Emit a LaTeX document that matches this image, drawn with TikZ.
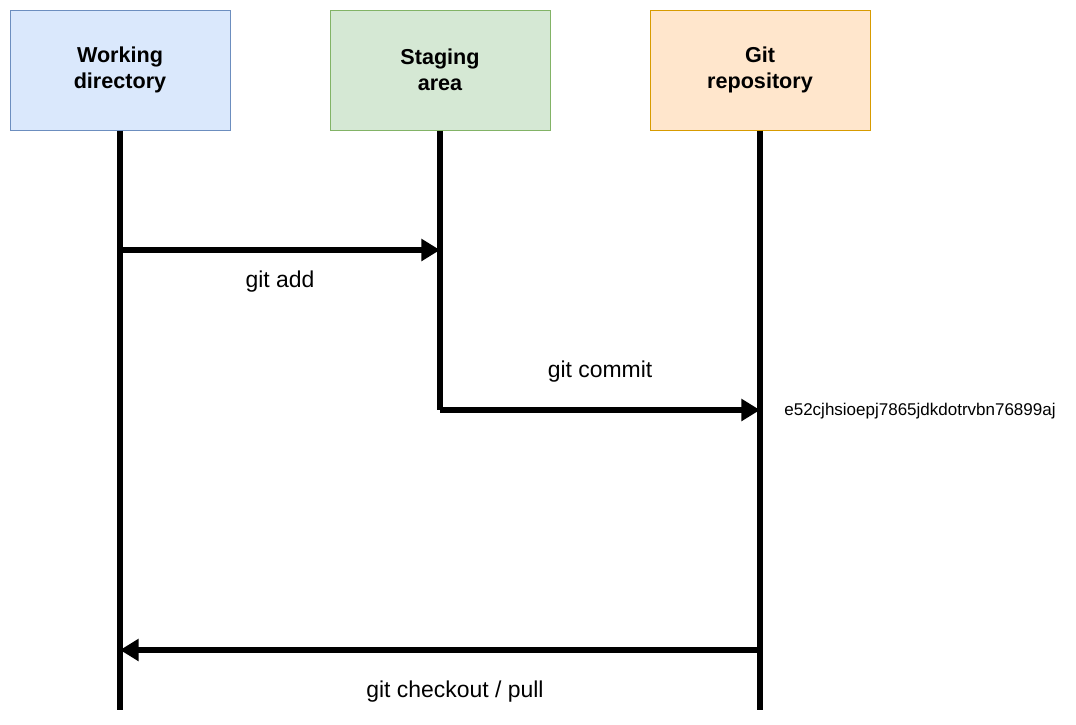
\documentclass[tikz,border=0pt]{standalone}
\usepackage{fontspec}
\setmainfont{Liberation Sans}
\usetikzlibrary{arrows.meta}
\definecolor{wdfill}{HTML}{DAE8FC}\definecolor{wddraw}{HTML}{6C8EBF}
\definecolor{safill}{HTML}{D5E8D4}\definecolor{sadraw}{HTML}{82B366}
\definecolor{grfill}{HTML}{FFE6CC}\definecolor{grdraw}{HTML}{D79B00}
\tikzset{
    areabox/.style={draw, line width=0.75pt, minimum width=165pt, minimum height=90pt,
        align=center, font=\fontsize{16.2}{19.5}\selectfont\bfseries},
    lifeline/.style={line width=4.2pt},
    gitarrow/.style={line width=4.2pt, -{Triangle[length=14pt,width=16pt]}},
    cmdlabel/.style={font=\fontsize{17.2}{20}\selectfont},
}
\begin{document}
\begin{tikzpicture}[x=0.75pt, y=-0.75pt]
        \useasboundingbox (0,0) rectangle (1076,725);
        % Bereiche
        \node[areabox, fill=wdfill, draw=wddraw] (wd) at (120,70) {Working\\directory};
        \node[areabox, fill=safill, draw=sadraw] (sa) at (440,70) {Staging\\area};
        \node[areabox, fill=grfill, draw=grdraw] (gr) at (760,70) {Git\\repository};

        % Lebenslinien
        \coordinate (wdadd) at (120,250);
        \coordinate (wdpull) at (120,650);
        \coordinate (wdend) at (120,710);
        \coordinate (saadd) at (440,250);
        \coordinate (sacommit) at (440,410);
        \coordinate (grcommit) at (760,410);
        \coordinate (grpull) at (760,650);
        \coordinate (grend) at (760,710);
        \draw[lifeline] (wd.south) -- (wdend);
        \draw[lifeline] (sa.south) -- (sacommit);
        \draw[lifeline] (gr.south) -- (grend);

        % Befehle
        \draw[gitarrow] (wdadd) -- (saadd);
        \node[cmdlabel] (addlabel) at (280,282) {git add};
        \draw[gitarrow] (sacommit) -- (grcommit);
        \node[cmdlabel] (commitlabel) at (600,372) {git commit};
        \node[font=\fontsize{12.75}{15}\selectfont] (hash) at (920,411) {e52cjhsioepj7865jdkdotrvbn76899aj};
        \draw[gitarrow] (grpull) -- (wdpull);
        \node[cmdlabel] (pulllabel) at (455,692) {git checkout / pull};
    \end{tikzpicture}
\end{document}
